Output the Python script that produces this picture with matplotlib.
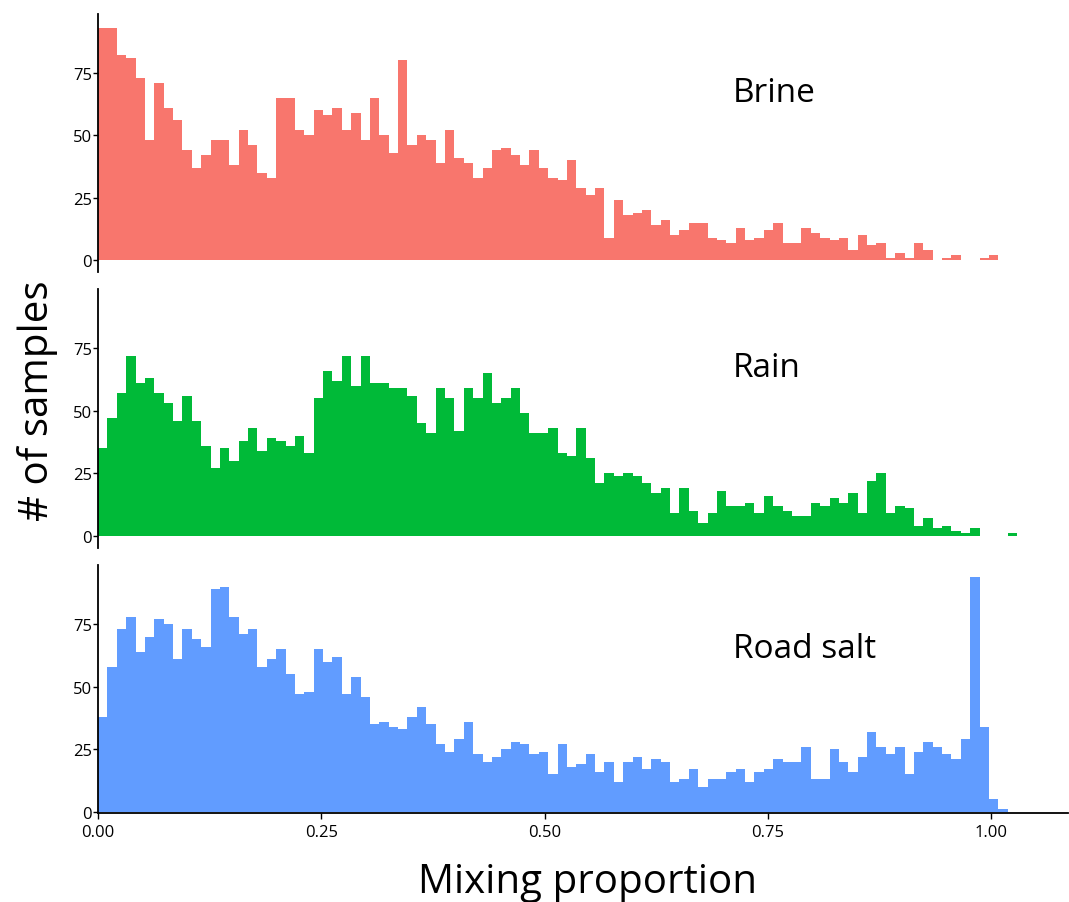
import numpy as np
from matplotlib import pyplot as plt
import matplotlib as mpl

mpl.rcParams['font.family'] = ['Open Sans', 'DejaVu Sans']

# histogram counts per bin (bin width ~0.0105, starting at 0)
BIN_WIDTH = 0.0105

brine = [93, 93, 82, 81, 73, 48, 71, 61, 56, 44, 37, 42, 48, 48, 38, 52, 46,
         35, 33, 65, 65, 52, 50, 60, 58, 61, 52, 59, 48, 65, 50, 43, 80,
         46, 50, 48, 39, 52, 41, 39, 33, 37, 44, 45, 42, 38, 44, 37, 33, 32,
         40, 29, 26, 29, 9, 24, 18, 19, 20, 14, 16, 10, 12, 15, 15, 9,
         8, 7, 13, 8, 9, 12, 15, 7, 7, 13, 11, 9, 8, 9, 4, 10, 6, 7, 1, 3,
         1, 7, 4, 0, 1, 2, 0, 0, 1, 2, 0, 0]

rain = [35, 47, 57, 72, 61, 63, 57, 53, 46, 56, 46, 36, 27, 35, 30, 38, 43,
        34, 39, 38, 36, 40, 33, 55, 66, 62, 72, 60, 72, 61, 61, 59, 59,
        56, 45, 41, 59, 55, 42, 59, 55, 65, 53, 55, 59, 49, 41, 41, 43, 33,
        32, 43, 31, 21, 25, 24, 25, 24, 21, 17, 19, 9, 19, 10, 5, 9,
        18, 12, 12, 13, 9, 16, 12, 10, 8, 8, 13, 12, 15, 13, 17, 9, 22, 25,
        9, 12, 11, 4, 7, 3, 4, 2, 1, 3, 0, 0, 0, 1]

road_salt = [38, 58, 73, 78, 64, 70, 77, 75, 61, 73, 69, 66, 89, 90, 78, 71,
             73, 58, 61, 65, 55, 47, 48, 65, 60, 62, 47, 54, 46, 35, 36, 34, 33,
             38, 42, 35, 27, 24, 29, 36, 23, 20, 22, 25, 28, 27, 23, 24, 15,
             27, 18, 19, 23, 16, 20, 12, 20, 22, 17, 21, 20, 12, 13, 17, 10, 13,
             13, 16, 17, 12, 16, 17, 21, 20, 20, 26, 13, 13, 25, 20, 16, 22,
             32, 26, 23, 26, 15, 24, 28, 26, 23, 21, 29, 94, 34, 5, 1, 0]

sources = ['Brine', 'Rain', 'Road salt']
colors = ['#F8766D', '#00BA38', '#619CFF']
series = [brine, rain, road_salt]
label_y = [63.5, 64, 62]

xticks = [0.0, 0.25, 0.5, 0.75, 1.0]
xticklabels = ['0.00', '0.25', '0.50', '0.75', '1.00']
yticks = [0, 25, 50, 75]

W, H = 1069, 903
fig = plt.figure(figsize=(W / 100, H / 100), dpi=100)

# panel boxes in pixels: (top, bottom), plus y limits
panels = [((15, 273), (-4.7, 98.5)),
          ((290, 548.5), (-4.7, 98.7)),
          ((566, 814), (-0.5, 98.7))]
left, right = 98, 1068

axes = []
for i, ((top, bottom), ylim) in enumerate(panels):
    ax = fig.add_axes([left / W, (H - bottom) / H, (right - left) / W, (bottom - top) / H])
    counts = np.array(series[i])
    edges = np.arange(len(counts) + 1) * BIN_WIDTH
    ax.stairs(counts, edges, fill=True, color=colors[i], linewidth=0)

    ax.set_xlim(0, 1.086)
    ax.set_ylim(*ylim)
    ax.set_yticks(yticks)
    ax.tick_params(axis='y', length=3.5, width=1, pad=1, labelsize=12, colors='black')
    for side in ['top', 'right']:
        ax.spines[side].set_visible(False)
    ax.spines['left'].set_linewidth(1.3)

    ax.text(0.711, label_y[i], sources[i], fontsize=24, ha='left', va='baseline')

    if i < 2:
        ax.spines['bottom'].set_visible(False)
        ax.set_xticks([])
    else:
        ax.spines['bottom'].set_linewidth(1.3)
        ax.set_xticks(xticks)
        ax.set_xticklabels(xticklabels)
        ax.tick_params(axis='x', length=4, width=1, pad=4, labelsize=12, colors='black')
    axes.append(ax)

fig.text(38 / W, 1 - 401 / H, '# of samples', rotation=90, fontsize=29,
         ha='center', va='center')
fig.text(587 / W, 1 - 893 / H, 'Mixing proportion', fontsize=29,
         ha='center', va='baseline')

plt.savefig('out.png', dpi=100)
